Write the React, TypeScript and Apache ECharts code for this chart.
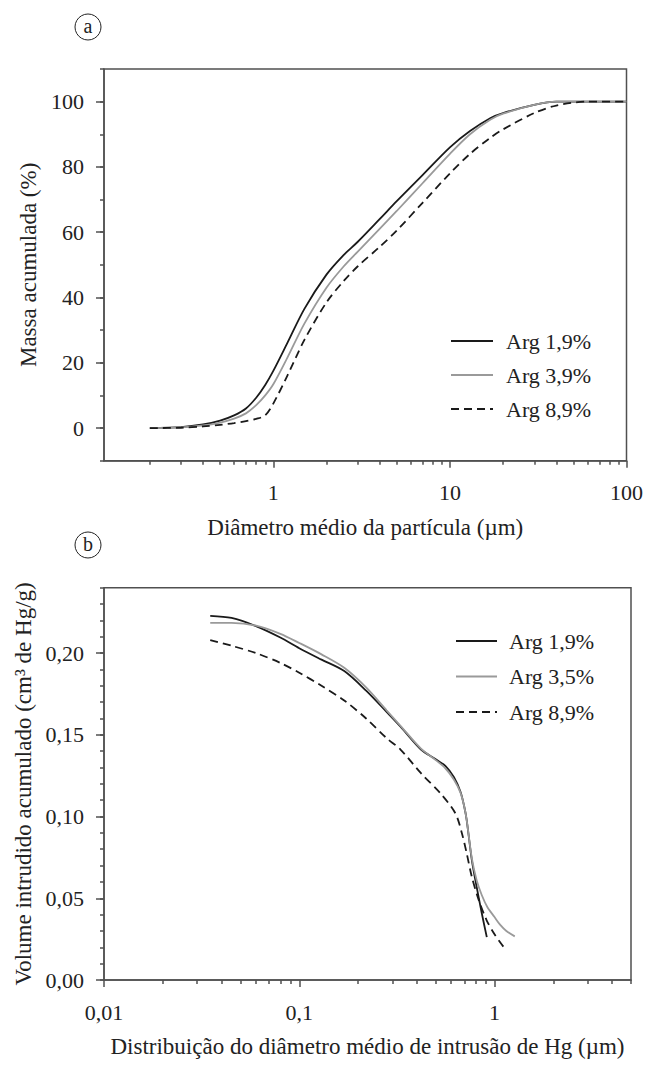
import React, { useEffect, useRef } from "react";
import * as echarts from "echarts";

// ---------- Chart (a): particle size distribution ----------
const diamA = [0.2, 0.3, 0.4, 0.5, 0.6, 0.7, 0.8, 0.9, 1, 1.2, 1.5, 2, 2.5, 3, 4, 5, 7, 10, 13, 17, 20, 30, 40, 60, 100];
const massArg19 = [0, 0.3, 1.1, 2.3, 3.9, 6.0, 9.3, 13.2, 17.5, 26, 36.5, 47, 53, 57, 64, 69.5, 77.5, 86, 91, 95, 96.5, 99, 100, 100, 100];
const massArg39 = [0, 0.2, 0.8, 1.7, 2.9, 4.5, 7.0, 10, 13.4, 21.5, 32, 43, 49.5, 54, 61, 66.5, 75, 84, 90, 94.5, 96.3, 99, 100, 100, 100];
const massArg89 = [0, 0.1, 0.5, 1.0, 1.5, 2.1, 2.8, 3.9, 7.5, 16, 27, 38.5, 45, 49.5, 55.5, 60.5, 69, 78, 84, 89, 91.5, 96.5, 98.8, 100, 100];
const namesA = ["Arg 1,9%", "Arg 3,9%", "Arg 8,9%"];
const xTicksA = [1, 10, 100];
const xMinorA = [0.2, 0.3, 0.4, 0.5, 0.6, 0.7, 0.8, 0.9, 2, 3, 4, 5, 6, 7, 8, 9, 20, 30, 40, 50, 60, 70, 80, 90];
const yTicksA = [0, 20, 40, 60, 80, 100];

// ---------- Chart (b): mercury intrusion ----------
const poreB19 = [0.035, 0.045, 0.06, 0.08, 0.1, 0.13, 0.17, 0.22, 0.28, 0.33, 0.42, 0.5, 0.56, 0.62, 0.67, 0.7, 0.72, 0.765, 0.81, 0.86, 0.913];
const volB19 = [0.2228, 0.2215, 0.2165, 0.2095, 0.203, 0.196, 0.189, 0.177, 0.164, 0.155, 0.141, 0.135, 0.131, 0.124, 0.115, 0.106, 0.098, 0.0735, 0.057, 0.041, 0.0262];
const poreB35 = [0.035, 0.045, 0.06, 0.08, 0.1, 0.13, 0.17, 0.22, 0.28, 0.33, 0.42, 0.5, 0.56, 0.62, 0.67, 0.7, 0.72, 0.765, 0.81, 0.86, 0.92, 1.0, 1.07, 1.15, 1.27];
const volB35 = [0.2185, 0.2185, 0.2168, 0.2118, 0.2062, 0.1992, 0.191, 0.179, 0.165, 0.1555, 0.1415, 0.1345, 0.1295, 0.1225, 0.1145, 0.106, 0.098, 0.0745, 0.061, 0.052, 0.0445, 0.0385, 0.0337, 0.03, 0.0267];
const poreB89 = [0.035, 0.045, 0.06, 0.08, 0.1, 0.13, 0.17, 0.22, 0.28, 0.33, 0.42, 0.53, 0.63, 0.68, 0.72, 0.765, 0.83, 0.91, 1.0, 1.11];
const volB89 = [0.208, 0.2045, 0.2, 0.194, 0.188, 0.18, 0.171, 0.16, 0.148, 0.141, 0.1265, 0.114, 0.102, 0.09, 0.0776, 0.0632, 0.049, 0.0367, 0.028, 0.0204];
const namesB = ["Arg 1,9%", "Arg 3,5%", "Arg 8,9%"];
const xTicksB = [0.01, 0.1, 1];
const xMinorB = [0.02, 0.03, 0.04, 0.05, 0.06, 0.07, 0.08, 0.09, 0.2, 0.3, 0.4, 0.5, 0.6, 0.7, 0.8, 0.9, 2, 3, 4, 5];
const yTicksB = [0, 0.05, 0.1, 0.15, 0.2];

const zip = (xs: number[], ys: number[]) => xs.map((x, i) => [x, ys[i]]);

const FONT = "Liberation Serif";
const TXT = "#222";
const AX = "#505050";
const BLACK = "#1a1a1a";
const GRAY = "#9a9a9a";

const fmtLog = (v: number) => String(Number(Number(v).toPrecision(6))).replace(".", ",");

export default function App() {
  const ref = useRef<HTMLDivElement>(null);
  useEffect(() => {
    if (!ref.current) return;
    const chart = echarts.init(ref.current, null, { renderer: "svg" });
    const gridA = { left: 104, top: 69, width: 522.7, height: 391.7 };
    const gridB = { left: 104, top: 587.7, width: 527, height: 392.3 };
    const axisLine = { show: true, onZero: false, lineStyle: { color: AX, width: 1.5 } };
    const noLine = { show: false, onZero: false };
    const labelStyle = { fontFamily: FONT, fontSize: 22, color: TXT };
    const nameStyle = { fontFamily: FONT, fontSize: 23, color: TXT };
    const lineSeries = (name: string, xi: number, data: number[][], color: string, dashed: boolean) => ({
      type: "line",
      name,
      xAxisIndex: xi,
      yAxisIndex: xi,
      data,
      symbol: "none",
      showSymbol: false,
      smooth: 0.3,
      lineStyle: { color, width: 1.8, type: dashed ? [8, 5] : "solid" },
      itemStyle: { color },
    });
    const legendCommon = {
      orient: "vertical",
      selectedMode: false,
      itemStyle: { opacity: 0, borderWidth: 0 },
      inactiveColor: "#fff",
    };

    const option: any = {
      animation: false,
      backgroundColor: "#fff",
      textStyle: { fontFamily: FONT },
      grid: [
        { ...gridA, show: true, borderColor: AX, borderWidth: 1.5, containLabel: false },
        { ...gridA, show: false },
        { ...gridB, show: true, borderColor: AX, borderWidth: 1.5, containLabel: false },
        { ...gridB, show: false },
      ],
      xAxis: [
        {
          gridIndex: 0, type: "log", logBase: 10, min: 0.11, max: 100,
          axisLine, splitLine: { show: false },
          axisTick: { show: true, length: 7, customValues: xTicksA, lineStyle: { color: AX, width: 1.5 } },
          axisLabel: { ...labelStyle, margin: 21, customValues: xTicksA, formatter: fmtLog },
          name: "Diâmetro médio da partícula (µm)", nameLocation: "middle", nameGap: 55, nameTextStyle: nameStyle,
        },
        {
          gridIndex: 1, type: "log", logBase: 10, min: 0.11, max: 100,
          axisLine: noLine, splitLine: { show: false }, axisLabel: { show: false },
          axisTick: { show: true, length: 4, customValues: xMinorA, lineStyle: { color: AX, width: 1.5 } },
        },
        {
          gridIndex: 2, type: "log", logBase: 10, min: 0.01, max: 5,
          axisLine, splitLine: { show: false },
          axisTick: { show: true, length: 7, customValues: xTicksB, lineStyle: { color: AX, width: 1.5 } },
          axisLabel: { ...labelStyle, margin: 21, customValues: xTicksB, formatter: fmtLog },
          name: "Distribuição do diâmetro médio de intrusão de Hg (µm)", nameLocation: "middle", nameGap: 55, nameTextStyle: nameStyle,
        },
        {
          gridIndex: 3, type: "log", logBase: 10, min: 0.01, max: 5,
          axisLine: noLine, splitLine: { show: false }, axisLabel: { show: false },
          axisTick: { show: true, length: 4, customValues: xMinorB, lineStyle: { color: AX, width: 1.5 } },
        },
      ],
      yAxis: [
        {
          gridIndex: 0, type: "value", min: -10, max: 110,
          axisLine, splitLine: { show: false },
          axisTick: { show: true, length: 8, customValues: yTicksA, lineStyle: { color: AX, width: 1.5 } },
          axisLabel: { ...labelStyle, margin: 20, customValues: yTicksA },
          name: "Massa acumulada (%)", nameLocation: "middle", nameGap: 64, nameTextStyle: nameStyle,
        },
        {
          gridIndex: 1, type: "value", min: -10, max: 110, interval: 10,
          axisLine: noLine, splitLine: { show: false }, axisLabel: { show: false },
          axisTick: { show: true, length: 4, lineStyle: { color: AX, width: 1.5 } },
        },
        {
          gridIndex: 2, type: "value", min: 0, max: 0.24,
          axisLine, splitLine: { show: false },
          axisTick: { show: true, length: 8, customValues: yTicksB, lineStyle: { color: AX, width: 1.5 } },
          axisLabel: { ...labelStyle, margin: 20, customValues: yTicksB, formatter: (v: number) => Number(v).toFixed(2).replace(".", ",") },
          name: "Volume intrudido acumulado (cm³ de Hg/g)", nameLocation: "middle", nameGap: 64, nameTextStyle: nameStyle,
        },
        {
          gridIndex: 3, type: "value", min: 0, max: 0.24, interval: 0.01,
          axisLine: noLine, splitLine: { show: false }, axisLabel: { show: false },
          axisTick: { show: true, length: 4, lineStyle: { color: AX, width: 1.5 } },
        },
      ],
      legend: [
        {
          ...legendCommon,
          data: namesA, left: 445, top: 325, itemWidth: 42, itemHeight: 20, itemGap: 12,
          textStyle: { fontFamily: FONT, fontSize: 22, color: TXT, padding: [0, 0, 0, 8] },
        },
        {
          ...legendCommon,
          data: namesB, left: 450, top: 625, itemWidth: 41, itemHeight: 20, itemGap: 13.5,
          textStyle: { fontFamily: FONT, fontSize: 22, color: TXT, padding: [0, 0, 0, 7] },
        },
      ],
      graphic: [
        { type: "circle", shape: { cx: 88, cy: 27, r: 13 }, style: { fill: "none", stroke: TXT, lineWidth: 1 } },
        { type: "text", x: 88, y: 26, style: { text: "a", fontFamily: FONT, fontSize: 20, fill: TXT, align: "center", verticalAlign: "middle" } },
        { type: "circle", shape: { cx: 88, cy: 545, r: 13 }, style: { fill: "none", stroke: TXT, lineWidth: 1 } },
        { type: "text", x: 88, y: 544, style: { text: "b", fontFamily: FONT, fontSize: 20, fill: TXT, align: "center", verticalAlign: "middle" } },
      ],
      series: [
        lineSeries(namesA[0], 0, zip(diamA, massArg19), BLACK, false),
        lineSeries(namesA[1], 0, zip(diamA, massArg39), GRAY, false),
        lineSeries(namesA[2], 0, zip(diamA, massArg89), BLACK, true),
        lineSeries(namesB[0], 2, zip(poreB19, volB19), BLACK, false),
        lineSeries(namesB[1], 2, zip(poreB35, volB35), GRAY, false),
        lineSeries(namesB[2], 2, zip(poreB89, volB89), BLACK, true),
      ],
    };
    chart.setOption(option);
    return () => chart.dispose();
  }, []);
  return <div ref={ref} style={{ position: "absolute", left: 0, top: 0, width: 646, height: 1065 }} />;
}
